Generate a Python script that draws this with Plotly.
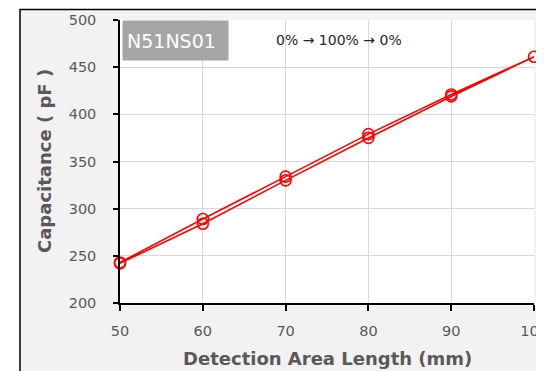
import plotly.graph_objects as go

# Data: sweep 0% -> 100% -> 0%
length_mm = [50, 60, 70, 80, 90, 100, 90, 80, 70, 60, 50]
capacitance_pf = [242, 284, 330, 375, 419, 461, 421, 379, 334, 289, 243]

x_ticks = [50, 60, 70, 80, 90, 100]
y_ticks = [200, 250, 300, 350, 400, 450, 500]

FONT = "DejaVu Sans"
GRAY = "#595959"

fig = go.Figure()
fig.add_trace(go.Scatter(
    x=length_mm, y=capacitance_pf, mode="lines+markers",
    line=dict(color="#ff0000", width=1.6),
    marker=dict(symbol="circle-open", size=11, color="#ff0000", line=dict(width=1.6)),
    cliponaxis=False, showlegend=False,
))

OFF = 8  # page body margin
W, H = 544 - OFF, 371 - OFF
L, R, T, B = 120 - OFF, 10, 20 - OFF, 68
pw, ph = W - L - R, H - T - B

def px_x(p):
    return (p - OFF - L) / pw

def px_y(p):
    return (H - B - (p - OFF)) / ph

shapes = [
    # outer chart frame
    dict(type="rect", xref="paper", yref="paper", x0=px_x(20), x1=px_x(600),
         y0=px_y(420), y1=px_y(9.5), fillcolor="#f2f2f2",
         line=dict(color="black", width=1.5), layer="below"),
    # white plot area
    dict(type="rect", xref="paper", yref="paper", x0=0, x1=1, y0=0, y1=1,
         fillcolor="white", line=dict(width=0), layer="below"),
]

annotations = [
    dict(text="N51NS01", xref="paper", yref="paper", x=px_x(121.5), y=px_y(20),
         xanchor="left", yanchor="top", showarrow=False,
         font=dict(family=FONT, size=19, color="white"),
         bgcolor="#a6a6a6", width=97, height=31, align="left", borderpad=4),
    dict(text="0% → 100% → 0%", xref="paper", yref="paper", x=px_x(339), y=px_y(40),
         xanchor="center", yanchor="middle", showarrow=False,
         font=dict(family=FONT, size=14, color="#262626")),
    dict(text="<b>Detection Area Length (mm)</b>", xref="paper", yref="paper",
         x=px_x(327), y=px_y(358), xanchor="center", yanchor="middle", showarrow=False,
         font=dict(family=FONT, size=18, color=GRAY)),
    dict(text="<b>Capacitance ( pF )</b>", xref="paper", yref="paper",
         x=px_x(44), y=px_y(161), xanchor="center", yanchor="middle", showarrow=False,
         textangle=-90, font=dict(family=FONT, size=18, color=GRAY)),
]

fig.update_layout(
    width=W, height=H, margin=dict(l=L, r=R, t=T, b=B, autoexpand=False),
    paper_bgcolor="white", plot_bgcolor="white",
    shapes=shapes, annotations=annotations,
    xaxis=dict(range=[50, 100], tickvals=x_ticks, showgrid=True, gridcolor="#d9d9d9",
               gridwidth=1, showline=True, linecolor="black", linewidth=1.5,
               ticks="outside", ticklen=6, tickcolor="black", tickwidth=1.5,
               ticklabelstandoff=8, zeroline=False, ticklabeloverflow="allow",
               automargin=False,
               tickfont=dict(family=FONT, size=14.5, color=GRAY)),
    yaxis=dict(range=[200, 500], tickvals=y_ticks, showgrid=True, gridcolor="#d9d9d9",
               gridwidth=1, showline=True, linecolor="black", linewidth=1.5,
               ticks="outside", ticklen=5, tickcolor="black", tickwidth=1.5,
               ticklabelstandoff=14, zeroline=False, automargin=False,
               tickfont=dict(family=FONT, size=14.5, color=GRAY)),
)

fig.write_html("out.html")
